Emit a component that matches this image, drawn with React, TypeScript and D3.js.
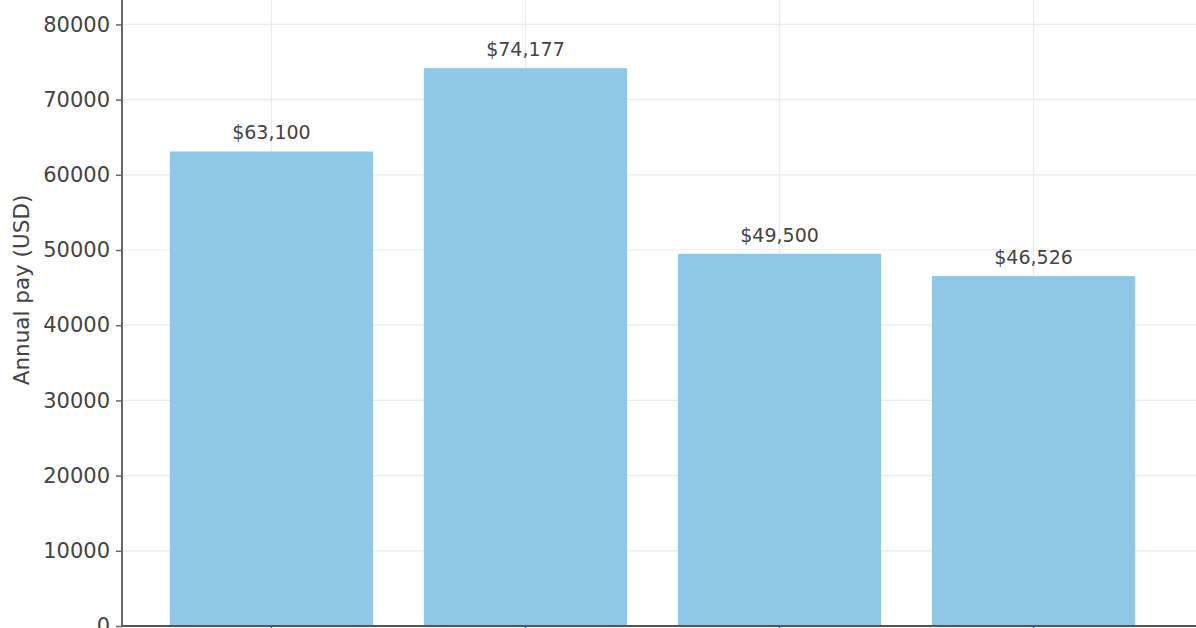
import { useEffect, useRef } from 'react';
import * as d3 from 'd3';

const categories = ['Role A', 'Role B', 'Role C', 'Role D'];
const annualPay = [63100, 74177, 49500, 46526];
const yTicks = [0, 10000, 20000, 30000, 40000, 50000, 60000, 70000, 80000];

export default function App() {
  const svgRef = useRef<SVGSVGElement>(null);

  useEffect(() => {
    if (!svgRef.current) return;
    const svg = d3.select(svgRef.current);
    svg.selectAll('*').remove();

    const width = 1196;
    const height = 628;
    const axisX = 122;
    const font = '"DejaVu Sans", sans-serif';

    // Scales
    const x = d3
      .scaleBand<string>()
      .domain(categories)
      .range([119, 1186])
      .paddingInner(0.2)
      .paddingOuter(0.2);

    const y = d3.scaleLinear().domain([0, 10000]).range([626, 550.8]);

    // Grid
    svg.append('g')
      .selectAll('line')
      .data(yTicks)
      .enter()
      .append('line')
      .attr('x1', axisX)
      .attr('x2', width)
      .attr('y1', d => y(d))
      .attr('y2', d => y(d))
      .attr('stroke', '#ebebeb')
      .attr('stroke-width', 1.2);

    svg.append('g')
      .selectAll('line')
      .data(categories)
      .enter()
      .append('line')
      .attr('x1', d => x(d)! + x.bandwidth() / 2)
      .attr('x2', d => x(d)! + x.bandwidth() / 2)
      .attr('y1', 0)
      .attr('y2', y(0))
      .attr('stroke', '#ebebeb')
      .attr('stroke-width', 1.2);

    // Bars
    svg.append('g')
      .selectAll('rect')
      .data(annualPay)
      .enter()
      .append('rect')
      .attr('x', (_, i) => x(categories[i])!)
      .attr('width', x.bandwidth())
      .attr('y', d => y(d))
      .attr('height', d => y(0) - y(d))
      .attr('fill', '#8ec8e6');

    // Value labels
    svg.append('g')
      .selectAll('text')
      .data(annualPay)
      .enter()
      .append('text')
      .attr('x', (_, i) => x(categories[i])! + x.bandwidth() / 2)
      .attr('y', d => y(d) - 12)
      .attr('text-anchor', 'middle')
      .attr('fill', '#444')
      .style('font-family', font)
      .style('font-size', '19px')
      .text(d => `$${d3.format(',')(d)}`);

    // Left axis
    const yAxis = svg.append('g')
      .attr('transform', `translate(${axisX},0)`)
      .call(d3.axisLeft(y).tickValues(yTicks).tickFormat(d => String(d)).tickSize(6).tickPadding(6));
    yAxis.select('.domain').attr('stroke', '#666').attr('stroke-width', 2).attr('d', `M0,0V${y(0)}`);
    yAxis.selectAll('.tick line').attr('stroke', '#666').attr('stroke-width', 1.5);
    yAxis.selectAll('.tick text')
      .attr('fill', '#444')
      .style('font-family', font)
      .style('font-size', '21px');

    // Bottom axis (category labels fall below the visible crop)
    const xAxis = svg.append('g')
      .attr('transform', `translate(0,${y(0)})`)
      .call(d3.axisBottom(x).tickSize(6).tickFormat(() => ''));
    xAxis.select('.domain').attr('stroke', '#555').attr('stroke-width', 2).attr('d', `M${axisX},0H${width}`);
    xAxis.selectAll('.tick line').attr('stroke', '#555').attr('stroke-width', 1.5);

    // Y label
    svg.append('text')
      .attr('transform', `translate(29,290) rotate(-90)`)
      .attr('text-anchor', 'middle')
      .attr('fill', '#444')
      .style('font-family', font)
      .style('font-size', '21.5px')
      .text('Annual pay (USD)');

    svg.attr('width', width).attr('height', height);
  }, []);

  return (
    <div style={{ position: 'fixed', left: 0, top: 0, width: 1196, height: 628, background: '#fff', overflow: 'hidden' }}>
      <svg ref={svgRef} width={1196} height={628} style={{ display: 'block' }} />
    </div>
  );
}
